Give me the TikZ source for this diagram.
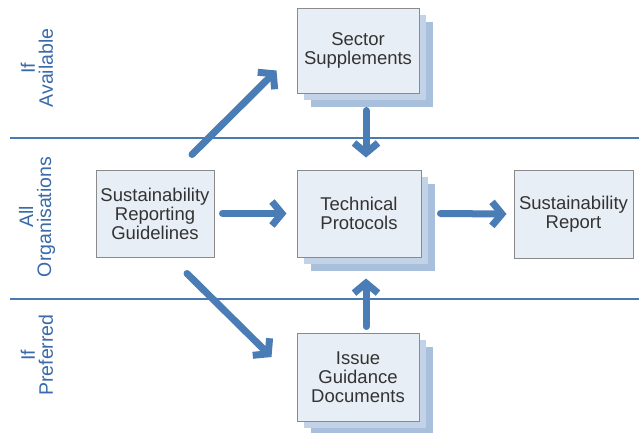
\documentclass[tikz,border=0pt]{standalone}
\usepackage{fontspec}
\setmainfont{Liberation Sans}
\usetikzlibrary{arrows.meta,calc}
\definecolor{arrowblue}{HTML}{4A7CB6}
\definecolor{lineblue}{HTML}{4A7AB4}
\definecolor{labelblue}{HTML}{3A6AA8}
\definecolor{boxfill}{HTML}{E8EEF5}
\definecolor{boxdraw}{HTML}{8A8A8A}
\definecolor{shadownear}{HTML}{C3D3E7}
\definecolor{shadowfar}{HTML}{A9C0DD}
\begin{document}
\begin{tikzpicture}[x=1pt,y=-1pt,
  boxnode/.style={draw=boxdraw,line width=1pt,fill=boxfill,align=center,
    font=\fontsize{18.5}{19}\selectfont,text=black!80,inner sep=0pt},
  arr/.style={draw=arrowblue,line width=7pt,line cap=round,
    -{Straight Barb[length=10pt,width=24pt]}},
  band/.style={draw=lineblue,line width=1.4pt},
  sidelabel/.style={rotate=90,align=center,text=labelblue,
    font=\fontsize{19.5}{18}\selectfont}]
\useasboundingbox (0,0) rectangle (639,432);
\fill[white] (0,0) rectangle (639,432);

% band lines
\coordinate (l1a) at (10,138);
\coordinate (l1b) at (639,138);
\coordinate (l2a) at (10,299);
\coordinate (l2b) at (639,299);
\draw[band] (l1a) -- (l1b);
\draw[band] (l2a) -- (l2b);

% side labels
\node[sidelabel] (lab1) at (37,68) {If\\Available};
\node[sidelabel] (lab2) at (37,217) {All\\Organisations};
\node[sidelabel] (lab3) at (37,355) {If\\Preferred};

% shadows for stacked boxes
\foreach \cx/\cy/\w/\h in {358/50.5/122/85, 359/213.5/124/87, 358/377/122/88}{
  \fill[shadowfar] (\cx-\w/2+14,\cy-\h/2+14) rectangle (\cx+\w/2+14,\cy+\h/2+14);
  \fill[shadownear] (\cx-\w/2+7,\cy-\h/2+7) rectangle (\cx+\w/2+7,\cy+\h/2+7);
}

% boxes
\node[boxnode,minimum width=122pt,minimum height=85pt] (ss) at (358,50.5) {Sector\\Supplements};
\node[boxnode,minimum width=118pt,minimum height=87pt] (srg) at (155,213.5) {Sustainability\\Reporting\\Guidelines};
\node[boxnode,minimum width=124pt,minimum height=87pt] (tp) at (359,213.5) {Technical\\Protocols};
\node[boxnode,minimum width=119pt,minimum height=88pt] (sr) at (573.5,214) {Sustainability\\Report};
\node[boxnode,minimum width=122pt,minimum height=88pt] (igd) at (358,377) {Issue\\Guidance\\Documents};

% arrows
\draw[arr] ($(srg.north)+(37,-15)$) -- ($(ss.west)+(-20,20)$);
\draw[arr] ($(ss.south)+(8,17)$) -- ($(tp.north)+(7,-12)$);
\draw[arr] ($(srg.east)+(8,0)$) -- ($(tp.west)+(-10,0)$);
\draw[arr] ($(tp.east)+(19,0)$) -- ($(sr.west)+(-7,0)$);
\draw[arr] ($(igd.north)+(8,-6)$) -- ($(tp.south)+(7,21)$);
\draw[arr] ($(srg.south)+(32,16)$) -- ($(igd.west)+(-25,-20)$);
\end{tikzpicture}
\end{document}
